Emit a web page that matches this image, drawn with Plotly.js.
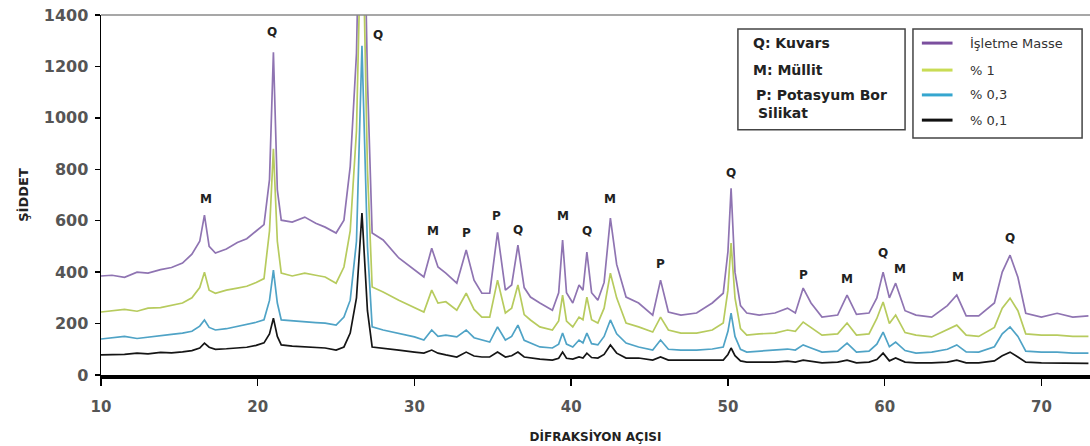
<!DOCTYPE html>
<html>
<head>
<meta charset="utf-8">
<script src="https://cdn.plot.ly/plotly-3.0.1.min.js"></script>
<style>html,body{margin:0;padding:0;background:#fff}#chart{width:1090px;height:446px}</style>
</head>
<body>
<div id="chart"></div>
<script>
// Diffraction angle (2θ)
const angle = [10.0,10.7,11.5,12.3,13.0,13.8,14.5,15.2,15.8,16.3,16.6,16.9,17.3,18.0,18.7,19.3,19.9,20.4,20.75,21.0,21.25,21.5,22.2,23.0,23.7,24.3,25.0,25.5,25.9,26.3,26.65,27.0,27.3,28.0,29.0,30.0,30.6,31.1,31.5,32.0,32.7,33.3,33.8,34.3,34.8,35.3,35.8,36.2,36.6,37.0,37.4,38.0,38.8,39.2,39.45,39.7,40.1,40.5,40.75,41.0,41.3,41.7,42.1,42.5,42.9,43.5,44.3,45.2,45.7,46.2,47.0,48.0,49.0,49.7,50.0,50.2,50.45,50.8,51.2,52.0,53.0,53.8,54.3,54.8,55.3,56.0,57.0,57.6,58.2,59.0,59.5,59.9,60.3,60.7,61.3,62.0,63.0,64.0,64.6,65.2,66.0,67.0,67.5,68.0,68.5,69.0,70.0,71.0,72.0,73.0];
// Intensities (ŞİDDET)
const isletmeMasse = [385,388,380,400,396,410,418,435,470,520,622,500,474,490,515,530,560,585,760,1255,720,602,595,614,590,575,552,602,810,1250,2300,1150,552,525,455,408,381,493,420,396,357,486,369,318,318,555,330,350,505,340,303,280,252,320,525,320,280,350,330,478,320,291,360,610,430,303,280,233,369,245,233,241,280,318,480,726,400,270,241,233,241,260,241,338,280,225,233,311,236,241,300,400,300,357,250,233,225,270,311,230,230,280,400,466,380,240,225,240,225,230];
const yuzde1 = [245,250,255,248,260,262,270,280,300,340,400,330,318,330,338,345,360,375,560,880,520,396,385,396,388,381,357,420,560,950,1900,800,342,323,291,264,245,330,280,285,252,318,255,225,225,369,241,260,350,235,214,187,175,210,311,210,187,225,215,303,215,202,260,396,300,202,187,167,225,175,163,163,175,202,330,513,300,180,155,160,163,175,170,206,185,155,160,202,155,160,220,284,200,233,165,155,148,175,194,155,150,185,260,299,250,160,155,155,150,150];
const yuzde03 = [140,144,150,142,148,152,158,163,170,190,214,185,175,180,190,196,205,215,290,408,280,214,210,206,204,202,194,225,291,520,1280,500,187,175,163,148,136,175,150,155,148,175,145,136,128,187,136,150,194,135,124,109,105,120,163,120,109,136,125,163,122,117,150,214,160,124,109,97,136,100,97,97,101,109,170,241,150,100,89,93,97,101,97,117,105,89,93,124,89,93,120,167,110,128,95,85,89,100,117,90,89,110,160,187,150,93,89,89,85,85];
const yuzde01 = [78,78,80,85,82,88,86,90,95,105,124,108,100,102,106,108,115,125,160,221,150,117,112,109,108,105,97,109,163,300,630,250,109,105,97,89,85,97,85,78,70,89,74,70,70,89,70,75,89,70,66,62,58,65,89,65,62,70,66,85,68,66,80,117,85,66,66,58,70,58,58,58,58,58,80,105,75,55,50,50,50,54,50,58,54,47,50,58,47,50,60,85,55,66,50,47,47,50,58,47,47,55,75,89,70,50,47,47,47,45];

const seriesNames = ['İşletme Masse','% 1','% 0,3','% 0,1'];
const seriesData = [isletmeMasse, yuzde1, yuzde03, yuzde01];
const seriesColors = ['#8f74b2','#b7cb5e','#4fa3c6','#151515'];
const legendColors = ['#7b4f9e','#c9dc55','#35a6cf','#111111'];

// Peak labels (phase, angle, label height)
const peakPhase = ['M','Q','Q','M','P','P','Q','M','Q','M','P','Q','P','M','Q','M','M','Q'];
const peakAngle = [16.7,20.9,27.7,31.15,33.3,35.25,36.6,39.45,41.0,42.5,45.7,50.2,54.8,57.6,59.9,61.0,64.7,68.0];
const peakLabelY = [684,1333,1321,559,552,618,563,618,559,684,431,785,389,373,474,412,381,532];

const yTicks = [0,200,400,600,800,1000,1200,1400];
const xTicks = [10,20,30,40,50,60,70];

const traces = seriesData.map((d,i)=>({
  type:'scatter', mode:'lines', x:angle, y:d, name:seriesNames[i],
  line:{color:seriesColors[i], width:1.7}, showlegend:false, hoverinfo:'x+y+name'
}));

const FONT = 'DejaVu Sans, Arial, sans-serif';
const annotations = peakPhase.map((t,i)=>({
  x:peakAngle[i], y:peakLabelY[i], xref:'x', yref:'y', text:t, showarrow:false,
  font:{family:FONT, size:12, color:'#222', weight:'bold'}
}));

// Phase key box (left) and series legend box (right)
const phaseKey = ['Q: Kuvars','M: Müllit','P: Potasyum Bor','Silikat'];
const phaseKeyY = [0.922,0.847,0.778,0.729];
const phaseKeyX = [0.657,0.657,0.660,0.662];
phaseKey.forEach((t,i)=>annotations.push({
  xref:'paper', yref:'paper', x:phaseKeyX[i], y:phaseKeyY[i], xanchor:'left', yanchor:'middle',
  text:t, showarrow:false, font:{family:FONT, size:14, color:'#222', weight:'bold'}
}));
const legY = [0.922,0.847,0.778,0.708];
seriesNames.forEach((t,i)=>annotations.push({
  xref:'paper', yref:'paper', x:0.877, y:legY[i], xanchor:'left', yanchor:'middle',
  text:t, showarrow:false, font:{family:FONT, size:13, color:'#333'}
}));

const shapes = [
  {type:'line', xref:'paper', yref:'paper', x0:0, x1:1, y0:1, y1:1, line:{color:'#8a8a8a', width:1.5}},
  {type:'rect', xref:'paper', yref:'paper', x0:0.644, x1:0.813, y0:0.681, y1:0.961, line:{color:'#444', width:1.5}, fillcolor:'rgba(255,255,255,0)'},
  {type:'rect', xref:'paper', yref:'paper', x0:0.821, x1:0.992, y0:0.658, y1:0.961, line:{color:'#444', width:1.5}, fillcolor:'rgba(255,255,255,0)'}
];
legendColors.forEach((c,i)=>shapes.push({
  type:'line', xref:'paper', yref:'paper', x0:0.830, x1:0.861, y0:legY[i], y1:legY[i], line:{color:c, width:3}
}));

const layout = {
  width:1090, height:446,
  margin:{l:101, r:0, t:15, b:71},
  paper_bgcolor:'#fff', plot_bgcolor:'#fff',
  showlegend:false,
  font:{family:FONT},
  xaxis:{
    range:[10,73.1], tickvals:xTicks, ticktext:xTicks.map(String),
    showgrid:false, zeroline:false, showline:true, linecolor:'#000', linewidth:4,
    ticks:'outside', ticklen:7, tickwidth:1.5, tickcolor:'#000',
    ticklabelstandoff:8,
    tickfont:{family:FONT, size:15, color:'#555', weight:'bold'},
    title:{text:'DİFRAKSİYON AÇISI', font:{family:FONT, size:12, color:'#222', weight:'bold'}, standoff:19}
  },
  yaxis:{
    range:[0,1400], tickvals:yTicks, ticktext:yTicks.map(String),
    showgrid:false, zeroline:false, showline:true, linecolor:'#000', linewidth:1.5,
    ticks:'outside', ticklen:5, tickwidth:1.5, tickcolor:'#000',
    ticklabelstandoff:3,
    tickfont:{family:FONT, size:16, color:'#555', weight:'bold'},
    title:{text:'ŞİDDET', font:{family:FONT, size:13, color:'#222', weight:'bold'}, standoff:12}
  },
  annotations:annotations,
  shapes:shapes
};

Plotly.newPlot('chart', traces, layout, {staticPlot:true, displayModeBar:false});
</script>
</body>
</html>
